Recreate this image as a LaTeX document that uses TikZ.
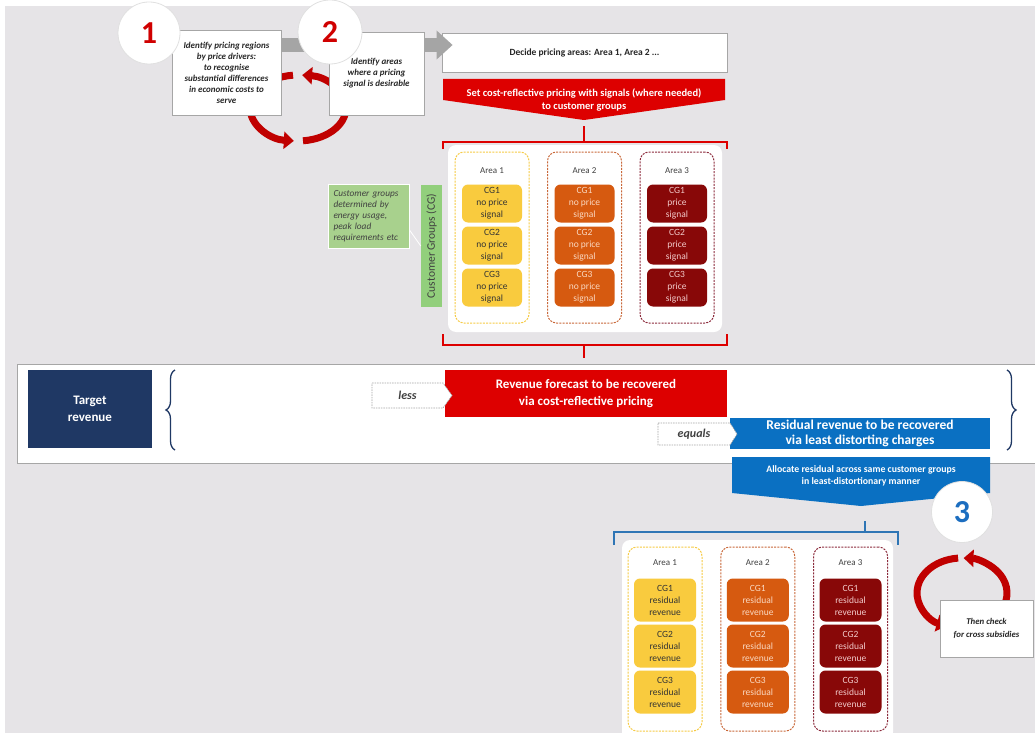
\documentclass[tikz,border=0pt]{standalone}
\usepackage{fontspec}
\setmainfont{Carlito}
\usepackage{xcolor}
\usepackage{tikz}
\usetikzlibrary{arrows.meta,positioning,decorations.pathreplacing}
\definecolor{bggrey}{HTML}{E6E4E7}
\definecolor{edgegrey}{HTML}{A6A6A6}
\definecolor{arrowgrey}{HTML}{A5A5A5}
\definecolor{sigred}{HTML}{DD0000}
\definecolor{cyclered}{HTML}{C00000}
\definecolor{numred}{HTML}{D00000}
\definecolor{numblue}{HTML}{1C6EC0}
\definecolor{resblue}{HTML}{0A70C2}
\definecolor{bracketblue}{HTML}{2F75B5}
\definecolor{navy}{HTML}{1F3864}
\definecolor{cgyellow}{HTML}{F9CB3E}
\definecolor{cgorange}{HTML}{D65A10}
\definecolor{cgdark}{HTML}{880808}
\definecolor{cgorangetext}{HTML}{FAD9C2}
\definecolor{cgdarktext}{HTML}{F2CACA}
\definecolor{areayel}{HTML}{F6CB45}
\definecolor{areaora}{HTML}{C9683A}
\definecolor{areared}{HTML}{8C2B3C}
\definecolor{cggreen}{HTML}{92CF7C}
\definecolor{notegreen}{HTML}{A8D18D}

\begin{document}
\begin{tikzpicture}[x=1pt,y=-1pt,node distance=42pt,on grid]
        \tikzstyle{step_box}=[draw=edgegrey,fill=white,line width=0.8pt,inner sep=0pt,align=center,text=black!85,font=\fontsize{9}{11}\selectfont\bfseries\itshape]
        \tikzstyle{step_num}=[circle,draw=black!12,fill=white,line width=0.8pt,minimum size=62pt,inner sep=0pt,font=\fontsize{32}{32}\selectfont\bfseries]
        \tikzstyle{panel}=[fill=white,rounded corners=8pt,inner sep=0pt]
        \tikzstyle{area_col}=[rounded corners=9pt,dash pattern=on 2pt off 1.2pt,line width=1pt,minimum width=74pt,inner sep=0pt]
        \tikzstyle{area_lbl}=[font=\fontsize{9}{11}\selectfont,text=black!75]
        \tikzstyle{cg_box}=[rounded corners=6pt,minimum width=60pt,minimum height=38pt,inner sep=0pt,align=center,font=\fontsize{9.5}{12}\selectfont]
        \tikzstyle{cg_yel}=[cg_box,fill=cgyellow,text=black!80]
        \tikzstyle{cg_ora}=[cg_box,fill=cgorange,text=cgorangetext]
        \tikzstyle{cg_red}=[cg_box,fill=cgdark,text=cgdarktext]
        \tikzstyle{white_bold}=[text=white,align=center,inner sep=0pt,font=\bfseries]
        \tikzstyle{cycle_arrow}=[draw=cyclered,line width=7pt,-{Triangle[length=10pt,width=17pt]}]
        \tikzstyle{note_edge}=[draw=black!35,fill=white,dash pattern=on 1.5pt off 1pt,line width=0.7pt]
        \tikzstyle{note_text}=[text=black!75,font=\fontsize{12}{14}\selectfont\bfseries\itshape]
        \tikzstyle{bracket}=[line width=1.8pt]
        \tikzstyle{curly}=[navy,line width=1.3pt,decorate,decoration={brace,amplitude=9pt}]

    \fill[white] (0,0) rectangle (1035,733);
    \fill[bggrey] (5,6) rectangle (1035,733);
    \clip (0,0) rectangle (1035,733);

    \draw[cycle_arrow] (303,140.8) arc[start angle=84,end angle=-85,x radius=48,y radius=33];
    \draw[cycle_arrow] (293,75.2) arc[start angle=-96,end angle=-265,x radius=48,y radius=33];

    \node[step_box,minimum width=109pt,minimum height=85pt]  (regions) at (226.5,72.5) {Identify pricing regions\\by price drivers:\\to recognise\\substantial differences\\in economic costs to\\serve};
    \node[step_box,minimum width=285pt,minimum height=39pt,font=\fontsize{9.5}{11}\selectfont\bfseries]  (decide) at (584.5,52.5) {Decide pricing areas: Area 1, Area 2 ...};
    \coordinate (g_level) at (0,45);
    \draw[draw=arrowgrey,line width=14pt,shorten >=-11pt,-{Triangle[length=16pt,width=28pt]}] (regions.east |- g_level) -- (decide.west |- g_level);
    \node[step_box,minimum width=95pt,minimum height=83pt]  (signal_areas) at (376.5,73.5) {Identify areas\\where a pricing\\signal is desirable};
    \node[step_num,text=numred]  (num_one) at (149,33) {1};
    \node[step_num,text=numred,minimum size=64pt]  (num_two) at (330,32) {2};

    \fill[sigred] (443,79) -- (725,79) -- (725,100) -- (584,120) -- (443,100) -- cycle;
    \node[white_bold,font=\fontsize{10.5}{13}\selectfont\bfseries]  (set_pricing) at (584,99.5) {Set cost-reflective pricing with signals (where needed)\\to customer groups};
    \draw[bracket,sigred] (443,149) -- (443,142) -- (727,142) -- (727,149);
    \draw[bracket,sigred] (584,126) -- (584,142);

    \node[panel,minimum width=274pt,minimum height=187pt]  (top_panel) at (585,238.5) {};
    \node[area_col,draw=areayel,minimum height=171pt]  (top_a1) at (492,237.5) {};
    \node[area_col,draw=areaora,minimum height=171pt]  (top_a2) [right=92.5pt of top_a1] {};
    \node[area_col,draw=areared,minimum height=171pt]  (top_a3) [right=92.5pt of top_a2] {};
    \node[area_lbl]  (top_l1) at ([yshift=-19pt]top_a1.north) {Area 1};
    \node[area_lbl]  (top_l2) at ([yshift=-19pt]top_a2.north) {Area 2};
    \node[area_lbl]  (top_l3) at ([yshift=-19pt]top_a3.north) {Area 3};
    \node[cg_yel]  (top_c11) at ([yshift=-52pt]top_a1.north) {CG1\\no price\\signal};
    \node[cg_yel]  (top_c12) [below=of top_c11] {CG2\\no price\\signal};
    \node[cg_yel]  (top_c13) [below=of top_c12] {CG3\\no price\\signal};
    \node[cg_ora]  (top_c21) at ([yshift=-52pt]top_a2.north) {CG1\\no price\\signal};
    \node[cg_ora]  (top_c22) [below=of top_c21] {CG2\\no price\\signal};
    \node[cg_ora]  (top_c23) [below=of top_c22] {CG3\\no price\\signal};
    \node[cg_red]  (top_c31) at ([yshift=-52pt]top_a3.north) {CG1\\price\\signal};
    \node[cg_red]  (top_c32) [below=of top_c31] {CG2\\price\\signal};
    \node[cg_red]  (top_c33) [below=of top_c32] {CG3\\price\\signal};

    \node[fill=cggreen,minimum width=122pt,minimum height=21pt,inner sep=0pt,rotate=90,text=black!75,font=\fontsize{11.5}{12}\selectfont]  (cg_bar) at (431.5,246) {Customer Groups (CG)};
    \node[fill=notegreen,draw=white,line width=1pt,minimum width=81pt,minimum height=64pt,inner sep=0pt,text width=70pt,align=left,text=black!75,font=\fontsize{9.3}{11}\selectfont\itshape]  (cg_note) at (368.5,216) {Customer groups\\determined by\\energy usage,\\peak load\\requirements etc};
    \draw[white,line width=0.8pt] ([yshift=-14pt]cg_note.east) -- (cg_bar.north);

    \draw[bracket,sigred] (443,334) -- (443,345) -- (727,345) -- (727,334);
    \draw[bracket,sigred] (584,345) -- (584,358);

    \node[draw=edgegrey,fill=white,line width=0.8pt,minimum width=1023pt,minimum height=99pt,inner sep=0pt]  (band) at (528.5,413.5) {};
    \node[fill=navy,white_bold,minimum width=124pt,minimum height=78pt,font=\fontsize{13}{17}\selectfont\bfseries]  (target) at (90,409) {Target\\revenue};
    \draw[curly] (175,450) -- (175,370);
    \node[fill=sigred,white_bold,minimum width=282pt,minimum height=47pt,font=\fontsize{13}{17}\selectfont\bfseries]  (forecast) at (586,393.5) {Revenue forecast to be recovered\\via cost-reflective pricing};
    \filldraw[note_edge] (372,383) -- (443,383) -- (452,395.5) -- (443,408) -- (372,408) -- cycle;
    \node[note_text]  (less) at (407.5,395.5) {less};
    \node[fill=resblue,white_bold,minimum width=260pt,minimum height=31pt,font=\fontsize{13.5}{15.5}\selectfont\bfseries]  (residual) at (860,433.5) {Residual revenue to be recovered\\via least distorting charges};
    \filldraw[note_edge] (658,423) -- (730,423) -- (737,434) -- (730,445) -- (658,445) -- cycle;
    \node[note_text]  (equals) at (694,434) {equals};
    \draw[curly] (1007,370) -- (1007,450);

    \fill[resblue] (732,457) -- (990,457) -- (990,493) -- (861,506) -- (732,493) -- cycle;
    \node[white_bold,font=\fontsize{9.8}{12}\selectfont\bfseries]  (allocate) at (861,476) {Allocate residual across same customer groups\\in least-distortionary manner};
    \draw[bracket,bracketblue] (614,545) -- (614,532) -- (898,532) -- (898,545);
    \draw[bracket,bracketblue] (865,532) -- (865,521);
    \node[step_num,text=numblue,minimum size=61pt]  (num_three) at (962,512) {3};

    \node[panel,minimum width=271pt,minimum height=200pt]  (bot_panel) at (757.5,640) {};
    \node[area_col,draw=areayel,minimum height=184pt]  (bot_a1) at (665,639) {};
    \node[area_col,draw=areaora,minimum height=184pt]  (bot_a2) [right=92.75pt of bot_a1] {};
    \node[area_col,draw=areared,minimum height=184pt]  (bot_a3) [right=92.75pt of bot_a2] {};
    \node[area_lbl]  (bot_l1) at ([yshift=-16pt]bot_a1.north) {Area 1};
    \node[area_lbl]  (bot_l2) at ([yshift=-16pt]bot_a2.north) {Area 2};
    \node[area_lbl]  (bot_l3) at ([yshift=-16pt]bot_a3.north) {Area 3};
    \node[cg_yel,minimum width=62pt,minimum height=43pt]  (bot_c11) at ([yshift=-53.5pt]bot_a1.north) {CG1\\residual\\revenue};
    \node[cg_yel,minimum width=62pt,minimum height=43pt]  (bot_c12) [below=46pt of bot_c11] {CG2\\residual\\revenue};
    \node[cg_yel,minimum width=62pt,minimum height=43pt]  (bot_c13) [below=46pt of bot_c12] {CG3\\residual\\revenue};
    \node[cg_ora,minimum width=62pt,minimum height=43pt]  (bot_c21) at ([yshift=-53.5pt]bot_a2.north) {CG1\\residual\\revenue};
    \node[cg_ora,minimum width=62pt,minimum height=43pt]  (bot_c22) [below=46pt of bot_c21] {CG2\\residual\\revenue};
    \node[cg_ora,minimum width=62pt,minimum height=43pt]  (bot_c23) [below=46pt of bot_c22] {CG3\\residual\\revenue};
    \node[cg_red,minimum width=62pt,minimum height=43pt]  (bot_c31) at ([yshift=-53.5pt]bot_a3.north) {CG1\\residual\\revenue};
    \node[cg_red,minimum width=62pt,minimum height=43pt]  (bot_c32) [below=46pt of bot_c31] {CG2\\residual\\revenue};
    \node[cg_red,minimum width=62pt,minimum height=43pt]  (bot_c33) [below=46pt of bot_c32] {CG3\\residual\\revenue};

    \draw[cycle_arrow] (1004.3,605) arc[start angle=20,end angle=-88,x radius=45,y radius=35];
    \draw[cycle_arrow] (958.1,558.1) arc[start angle=-95,end angle=-250,x radius=45,y radius=35];
    \node[step_box,minimum width=93pt,minimum height=57pt,font=\fontsize{8.8}{13}\selectfont\bfseries\itshape]  (cross_check) at (986.5,628.5) {Then check\\for cross subsidies};

    \end{tikzpicture}
\end{document}
